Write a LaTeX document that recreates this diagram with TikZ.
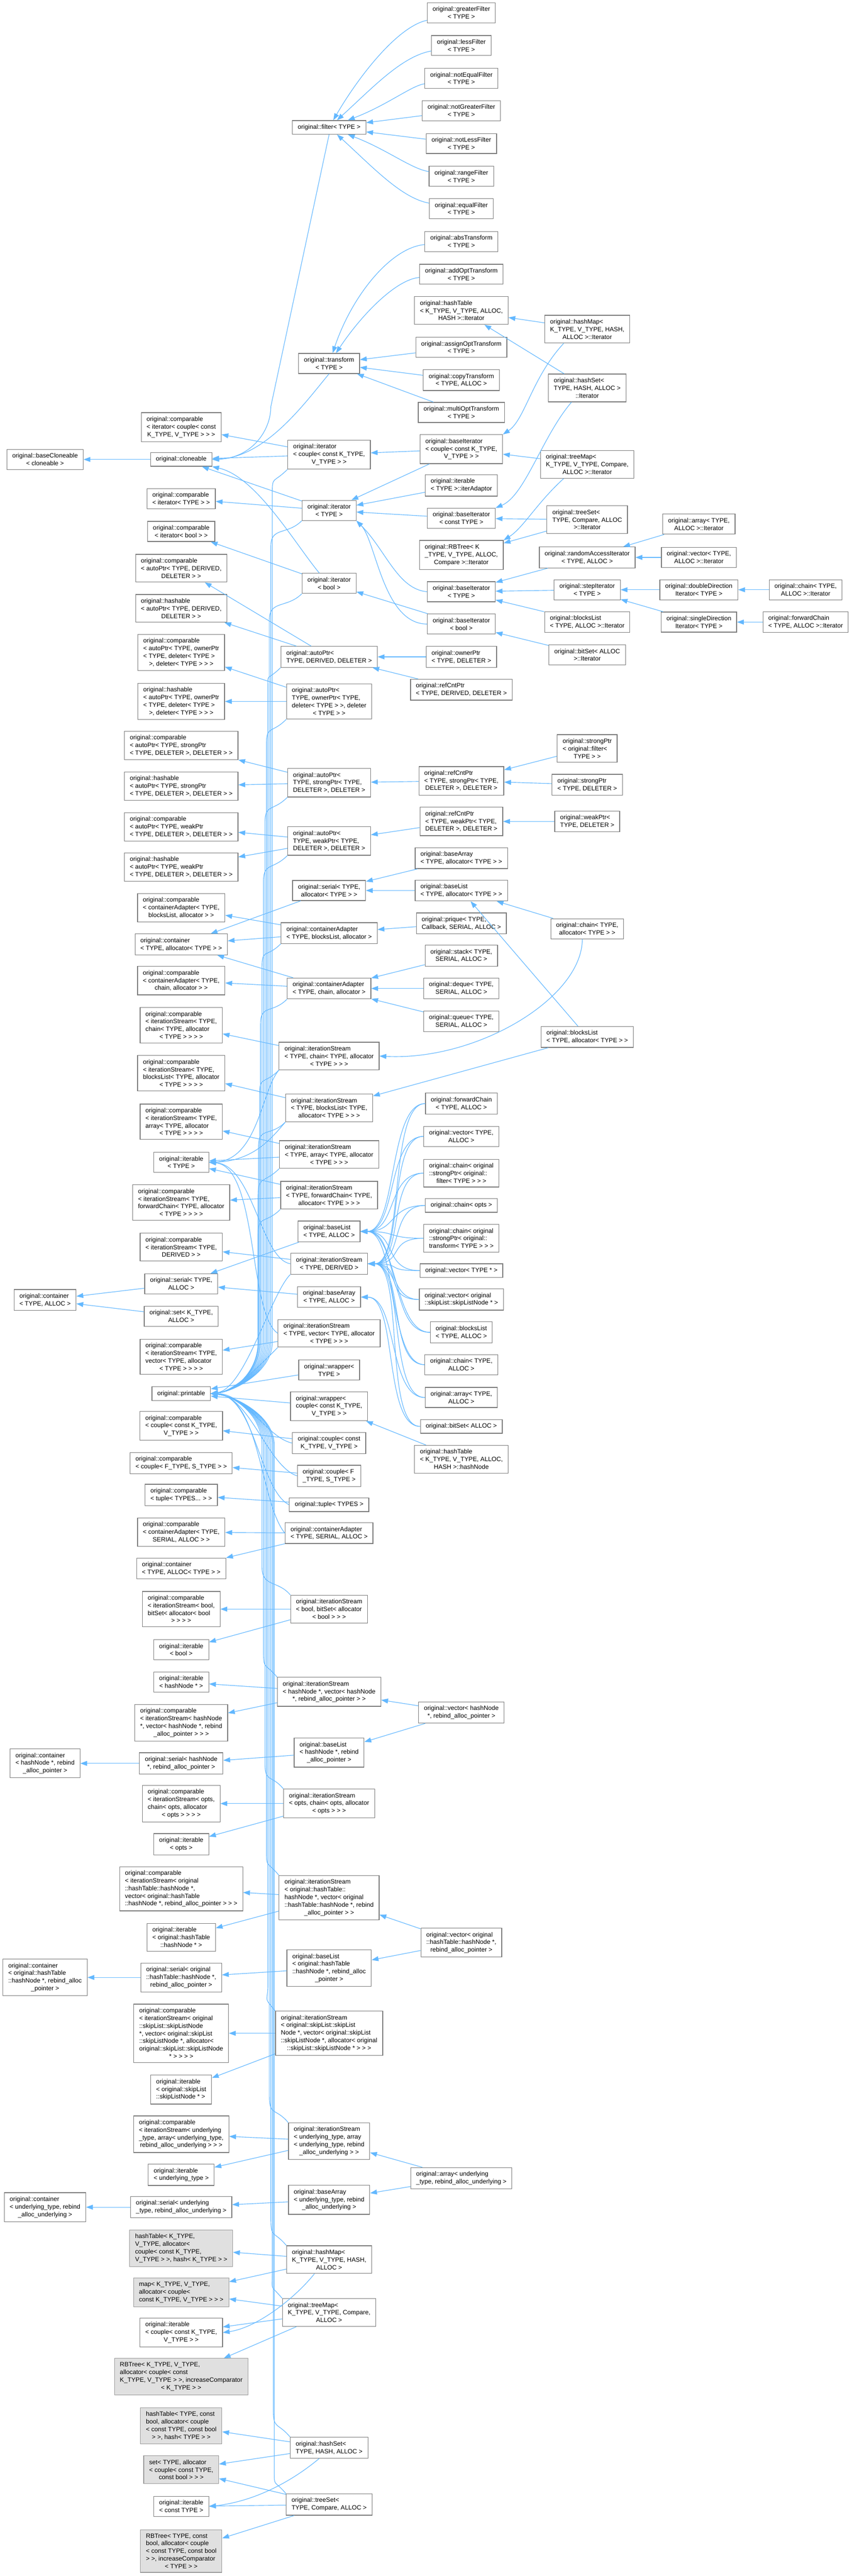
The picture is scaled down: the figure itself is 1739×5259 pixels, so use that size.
\documentclass[tikz,border=0pt]{standalone}
\usepackage{fontspec}
\setmainfont{Liberation Sans}
\usetikzlibrary{arrows.meta}
\definecolor{edgeblue}{HTML}{63B8FF}
\definecolor{boxline}{HTML}{7A7A7A}
\definecolor{extline}{HTML}{999999}
\definecolor{extfill}{HTML}{E0E0E0}

\begin{document}
\begin{tikzpicture}[x = 1pt, y = -1pt,
    cls/.style = {draw=boxline, fill=white, line width=1.3pt, align=left,
      font=\fontsize{12.8}{15.6}\selectfont, inner xsep=11pt, inner ysep=8pt},
    ext/.style = {cls, draw=extline, fill=extfill},
    inh/.style = {{Triangle[length=14pt,width=10pt]}-, draw=edgeblue, line width=1.2pt}]
  \fill[white] (0,0) rectangle (1739,5259);
  \begin{scope}[xshift=92pt]
    \node[cls] (baseCl) at (0,938) {original::baseCloneable\\\hfil< cloneable >};
    \node[cls] (contTA) at (0,2654) {original::container\\\hfil< TYPE, ALLOC >};
    \node[cls] (contHN) at (0,3600) {original::container\\< hashNode *, rebind\\\hfil\_alloc\_pointer >};
    \node[cls] (contHT) at (0,4037) {original::container\\< original::hashTable\\::hashNode *, rebind\_alloc\\\hfil\_pointer >};
    \node[cls] (contUT) at (0,4506) {original::container\\< underlying\_type, rebind\\\hfil\_alloc\_underlying >};
  \end{scope}
  \begin{scope}[xshift=370pt]
    \node[cls] (cmpItC) at (0,872) {original::comparable\\< iterator< couple< const\\\hfil K\_TYPE, V\_TYPE > > >};
    \node[cls] (clone) at (0,938) {original::cloneable};
    \node[cls] (cmpItT) at (0,1018) {original::comparable\\\hfil< iterator< TYPE > >};
    \node[cls] (cmpItB) at (0,1085) {original::comparable\\\hfil< iterator< bool > >};
    \node[cls] (cmpApD) at (0,1160) {original::comparable\\< autoPtr< TYPE, DERIVED,\\\hfil DELETER > >};
    \node[cls] (hshApD) at (0,1242) {original::hashable\\< autoPtr< TYPE, DERIVED,\\\hfil DELETER > >};
    \node[cls] (cmpApO) at (0,1332) {original::comparable\\< autoPtr< TYPE, ownerPtr\\< TYPE, deleter< TYPE >\\\hfil >, deleter< TYPE > > >};
    \node[cls] (hshApO) at (0,1432) {original::hashable\\< autoPtr< TYPE, ownerPtr\\< TYPE, deleter< TYPE >\\\hfil >, deleter< TYPE > > >};
    \node[cls] (cmpApS) at (0,1522) {original::comparable\\< autoPtr< TYPE, strongPtr\\\hfil< TYPE, DELETER >, DELETER > >};
    \node[cls] (hshApS) at (0,1605) {original::hashable\\< autoPtr< TYPE, strongPtr\\\hfil< TYPE, DELETER >, DELETER > >};
    \node[cls] (cmpApW) at (0,1688) {original::comparable\\< autoPtr< TYPE, weakPtr\\\hfil< TYPE, DELETER >, DELETER > >};
    \node[cls] (hshApW) at (0,1770) {original::hashable\\< autoPtr< TYPE, weakPtr\\\hfil< TYPE, DELETER >, DELETER > >};
    \node[cls] (cmpCaBL) at (0,1853) {original::comparable\\< containerAdapter< TYPE,\\\hfil blocksList, allocator > >};
    \node[cls] (contTAl) at (0,1928) {original::container\\\hfil< TYPE, allocator< TYPE > >};
    \node[cls] (cmpCaCh) at (0,2002) {original::comparable\\< containerAdapter< TYPE,\\\hfil chain, allocator > >};
    \node[cls] (cmpIsCh) at (0,2093) {original::comparable\\< iterationStream< TYPE,\\ chain< TYPE, allocator\\\hfil< TYPE > > > >};
    \node[cls] (cmpIsBL) at (0,2191) {original::comparable\\< iterationStream< TYPE,\\ blocksList< TYPE, allocator\\\hfil< TYPE > > > >};
    \node[cls] (cmpIsAr) at (0,2290) {original::comparable\\< iterationStream< TYPE,\\ array< TYPE, allocator\\\hfil< TYPE > > > >};
    \node[cls] (iterT) at (0,2373) {original::iterable\\\hfil< TYPE >};
    \node[cls] (cmpIsFC) at (0,2455) {original::comparable\\< iterationStream< TYPE,\\ forwardChain< TYPE, allocator\\\hfil< TYPE > > > >};
    \node[cls] (cmpIsD) at (0,2546) {original::comparable\\< iterationStream< TYPE,\\\hfil DERIVED > >};
    \node[cls] (serTA) at (0,2621) {original::serial< TYPE,\\\hfil ALLOC >};
    \node[cls] (setKA) at (0,2687) {original::set< K\_TYPE,\\\hfil ALLOC >};
    \node[cls] (cmpIsV) at (0,2770) {original::comparable\\< iterationStream< TYPE,\\ vector< TYPE, allocator\\\hfil< TYPE > > > >};
    \node[cls] (print) at (0,2845) {original::printable};
    \node[cls] (cmpCpK) at (0,2911) {original::comparable\\< couple< const K\_TYPE,\\\hfil V\_TYPE > >};
    \node[cls] (cmpCpF) at (0,2987) {original::comparable\\\hfil< couple< F\_TYPE, S\_TYPE > >};
    \node[cls] (cmpTup) at (0,3052) {original::comparable\\\hfil< tuple< TYPES... > >};
    \node[cls] (cmpCaS) at (0,3128) {original::comparable\\< containerAdapter< TYPE,\\\hfil SERIAL, ALLOC > >};
    \node[cls] (contTAT) at (0,3202) {original::container\\\hfil< TYPE, ALLOC< TYPE > >};
    \node[cls] (cmpIsBo) at (0,3285) {original::comparable\\< iterationStream< bool,\\ bitSet< allocator< bool\\\hfil > > > >};
    \node[cls] (iterB) at (0,3368) {original::iterable\\\hfil< bool >};
    \node[cls] (iterHN) at (0,3434) {original::iterable\\\hfil< hashNode * >};
    \node[cls] (cmpIsHN) at (0,3517) {original::comparable\\< iterationStream< hashNode\\ *, vector< hashNode *, rebind\\\hfil\_alloc\_pointer > > >};
    \node[cls] (serHN) at (0,3600) {original::serial< hashNode\\\hfil *, rebind\_alloc\_pointer >};
    \node[cls] (cmpIsO) at (0,3682) {original::comparable\\< iterationStream< opts,\\ chain< opts, allocator\\\hfil< opts > > > >};
    \node[cls] (iterO) at (0,3765) {original::iterable\\\hfil< opts >};
    \node[cls] (cmpIsHT) at (0,3856) {original::comparable\\< iterationStream< original\\::hashTable::hashNode *,\\ vector< original::hashTable\\\hfil::hashNode *, rebind\_alloc\_pointer > > >};
    \node[cls] (iterHT) at (0,3955) {original::iterable\\< original::hashTable\\\hfil::hashNode * >};
    \node[cls] (serHT) at (0,4037) {original::serial< original\\::hashTable::hashNode *,\\\hfil rebind\_alloc\_pointer >};
    \node[cls] (cmpIsSL) at (0,4151) {original::comparable\\< iterationStream< original\\::skipList::skipListNode\\ *, vector< original::skipList\\::skipListNode *, allocator<\\ original::skipList::skipListNode\\\hfil * > > > >};
    \node[cls] (iterSL) at (0,4266) {original::iterable\\< original::skipList\\::skipListNode * >};
    \node[cls] (cmpIsU) at (0,4357) {original::comparable\\< iterationStream< underlying\\\_type, array< underlying\_type,\\\hfil rebind\_alloc\_underlying > > >};
    \node[cls] (iterU) at (0,4440) {original::iterable\\\hfil< underlying\_type >};
    \node[cls] (serU) at (0,4506) {original::serial< underlying\\\hfil\_type, rebind\_alloc\_underlying >};
    \node[ext] (gHtK) at (0,4590) {hashTable< K\_TYPE,\\ V\_TYPE, allocator<\\ couple< const K\_TYPE,\\\hfil V\_TYPE > >, hash< K\_TYPE > >};
    \node[ext] (gMap) at (0,4680) {map< K\_TYPE, V\_TYPE,\\ allocator< couple<\\\hfil const K\_TYPE, V\_TYPE > > >};
    \node[cls] (iterCp) at (0,4762) {original::iterable\\< couple< const K\_TYPE,\\\hfil V\_TYPE > >};
    \node[ext] (gRbK) at (0,4852) {RBTree< K\_TYPE, V\_TYPE,\\ allocator< couple< const\\ K\_TYPE, V\_TYPE > >, increaseComparator\\\hfil< K\_TYPE > >};
    \node[ext] (gHtT) at (0,4952) {hashTable< TYPE, const\\ bool, allocator< couple\\< const TYPE, const bool\\\hfil > >, hash< TYPE > >};
    \node[ext] (gSet) at (0,5042) {set< TYPE, allocator\\< couple< const TYPE,\\\hfil const bool > > >};
    \node[cls] (iterCT) at (0,5117) {original::iterable\\\hfil< const TYPE >};
    \node[ext] (gRbT) at (0,5208) {RBTree< TYPE, const\\ bool, allocator< couple\\< const TYPE, const bool\\ > >, increaseComparator\\\hfil< TYPE > >};
  \end{scope}
  \begin{scope}[xshift=672pt]
    \node[cls] (filt) at (0,260) {original::filter< TYPE >};
    \node[cls] (trans) at (0,742) {original::transform\\\hfil< TYPE >};
    \node[cls] (itC) at (0,928) {original::iterator\\< couple< const K\_TYPE,\\\hfil V\_TYPE > >};
    \node[cls] (itT) at (0,1042) {original::iterator\\\hfil< TYPE >};
    \node[cls] (itB) at (0,1191) {original::iterator\\\hfil< bool >};
    \node[cls] (apD) at (0,1341) {original::autoPtr<\\\hfil TYPE, DERIVED, DELETER >};
    \node[cls] (apO) at (0,1432) {original::autoPtr<\\ TYPE, ownerPtr< TYPE,\\ deleter< TYPE > >, deleter\\\hfil< TYPE > >};
    \node[cls] (apS) at (0,1598) {original::autoPtr<\\ TYPE, strongPtr< TYPE,\\\hfil DELETER >, DELETER >};
    \node[cls] (apW) at (0,1717) {original::autoPtr<\\ TYPE, weakPtr< TYPE,\\\hfil DELETER >, DELETER >};
    \node[cls] (serTAl) at (0,1818) {original::serial< TYPE,\\\hfil allocator< TYPE > >};
    \node[cls] (caBL) at (0,1905) {original::containerAdapter\\\hfil< TYPE, blocksList, allocator >};
    \node[cls] (caCh) at (0,2018) {original::containerAdapter\\\hfil< TYPE, chain, allocator >};
    \node[cls] (isCh) at (0,2156) {original::iterationStream\\< TYPE, chain< TYPE, allocator\\\hfil< TYPE > > >};
    \node[cls] (isBL) at (0,2262) {original::iterationStream\\< TYPE, blocksList< TYPE,\\\hfil allocator< TYPE > > >};
    \node[cls] (isAr) at (0,2357) {original::iterationStream\\< TYPE, array< TYPE, allocator\\\hfil< TYPE > > >};
    \node[cls] (isFC) at (0,2440) {original::iterationStream\\< TYPE, forwardChain< TYPE,\\\hfil allocator< TYPE > > >};
    \node[cls] (blTA) at (0,2514) {original::baseList\\\hfil< TYPE, ALLOC >};
    \node[cls] (isD) at (0,2580) {original::iterationStream\\\hfil< TYPE, DERIVED >};
    \node[cls] (baTA) at (0,2648) {original::baseArray\\\hfil< TYPE, ALLOC >};
    \node[cls] (isV) at (0,2722) {original::iterationStream\\< TYPE, vector< TYPE, allocator\\\hfil< TYPE > > >};
    \node[cls] (wrT) at (0,2797) {original::wrapper<\\\hfil TYPE >};
    \node[cls] (wrC) at (0,2871) {original::wrapper<\\ couple< const K\_TYPE,\\\hfil V\_TYPE > >};
    \node[cls] (cpK) at (0,2946) {original::couple< const\\\hfil K\_TYPE, V\_TYPE >};
    \node[cls] (cpF) at (0,3013) {original::couple< F\\\hfil\_TYPE, S\_TYPE >};
    \node[cls] (tup) at (0,3072) {original::tuple< TYPES >};
    \node[cls] (caS) at (0,3130) {original::containerAdapter\\\hfil< TYPE, SERIAL, ALLOC >};
    \node[cls] (isBo) at (0,3285) {original::iterationStream\\< bool, bitSet< allocator\\\hfil< bool > > >};
    \node[cls] (isHN) at (0,3454) {original::iterationStream\\< hashNode *, vector< hashNode\\\hfil *, rebind\_alloc\_pointer > >};
    \node[cls] (blHN) at (0,3578) {original::baseList\\< hashNode *, rebind\\\hfil\_alloc\_pointer >};
    \node[cls] (isO) at (0,3682) {original::iterationStream\\< opts, chain< opts, allocator\\\hfil< opts > > >};
    \node[cls] (isHT) at (0,3874) {original::iterationStream\\< original::hashTable::\\hashNode *, vector< original\\::hashTable::hashNode *, rebind\\\hfil\_alloc\_pointer > >};
    \node[cls] (blHT) at (0,4018) {original::baseList\\< original::hashTable\\::hashNode *, rebind\_alloc\\\hfil\_pointer >};
    \node[cls] (isSL) at (0,4151) {original::iterationStream\\< original::skipList::skipList\\Node *, vector< original::skipList\\::skipListNode *, allocator< original\\\hfil::skipList::skipListNode * > > >};
    \node[cls] (isU) at (0,4371) {original::iterationStream\\< underlying\_type, array\\< underlying\_type, rebind\\\hfil\_alloc\_underlying > >};
    \node[cls] (baU) at (0,4491) {original::baseArray\\< underlying\_type, rebind\\\hfil\_alloc\_underlying >};
    \node[cls] (hMap) at (0,4613) {original::hashMap<\\ K\_TYPE, V\_TYPE, HASH,\\\hfil ALLOC >};
    \node[cls] (tMap) at (0,4721) {original::treeMap<\\ K\_TYPE, V\_TYPE, Compare,\\\hfil ALLOC >};
    \node[cls] (hSet) at (0,4997) {original::hashSet<\\\hfil TYPE, HASH, ALLOC >};
    \node[cls] (tSet) at (0,5113) {original::treeSet<\\\hfil TYPE, Compare, ALLOC >};
  \end{scope}
  \begin{scope}[xshift=942pt]
    \node[cls] (fGt) at (0,26) {original::greaterFilter\\\hfil< TYPE >};
    \node[cls] (fLs) at (0,93) {original::lessFilter\\\hfil< TYPE >};
    \node[cls] (fNe) at (0,160) {original::notEqualFilter\\\hfil< TYPE >};
    \node[cls] (fNg) at (0,226) {original::notGreaterFilter\\\hfil< TYPE >};
    \node[cls] (fNl) at (0,293) {original::notLessFilter\\\hfil< TYPE >};
    \node[cls] (fRg) at (0,360) {original::rangeFilter\\\hfil< TYPE >};
    \node[cls] (fEq) at (0,426) {original::equalFilter\\\hfil< TYPE >};
    \node[cls] (tAbs) at (0,493) {original::absTransform\\\hfil< TYPE >};
    \node[cls] (tAdd) at (0,560) {original::addOptTransform\\\hfil< TYPE >};
    \node[cls] (htIt) at (0,634) {original::hashTable\\< K\_TYPE, V\_TYPE, ALLOC,\\\hfil HASH >::Iterator};
    \node[cls] (tAsg) at (0,709) {original::assignOptTransform\\\hfil< TYPE >};
    \node[cls] (tCpy) at (0,776) {original::copyTransform\\\hfil< TYPE, ALLOC >};
    \node[cls] (tMul) at (0,842) {original::multiOptTransform\\\hfil< TYPE >};
    \node[cls] (biCp) at (0,917) {original::baseIterator\\< couple< const K\_TYPE,\\\hfil V\_TYPE > >};
    \node[cls] (itAd) at (0,991) {original::iterable\\\hfil< TYPE >::iterAdaptor};
    \node[cls] (biCT) at (0,1058) {original::baseIterator\\\hfil< const TYPE >};
    \node[cls] (rbIt) at (0,1133) {original::RBTree< K\\\_TYPE, V\_TYPE, ALLOC,\\\hfil Compare >::Iterator};
    \node[cls] (biT) at (0,1208) {original::baseIterator\\\hfil< TYPE >};
    \node[cls] (biB) at (0,1274) {original::baseIterator\\\hfil< bool >};
    \node[cls] (owP) at (0,1341) {original::ownerPtr\\\hfil< TYPE, DELETER >};
    \node[cls] (rcD) at (0,1408) {original::refCntPtr\\\hfil< TYPE, DERIVED, DELETER >};
    \node[cls] (rcS) at (0,1594) {original::refCntPtr\\< TYPE, strongPtr< TYPE,\\\hfil DELETER >, DELETER >};
    \node[cls] (rcW) at (0,1677) {original::refCntPtr\\< TYPE, weakPtr< TYPE,\\\hfil DELETER >, DELETER >};
    \node[cls] (baTAl) at (0,1752) {original::baseArray\\\hfil< TYPE, allocator< TYPE > >};
    \node[cls] (blTAl) at (0,1818) {original::baseList\\\hfil< TYPE, allocator< TYPE > >};
    \node[cls] (prq) at (0,1885) {original::prique< TYPE,\\\hfil Callback, SERIAL, ALLOC >};
    \node[cls] (stk) at (0,1951) {original::stack< TYPE,\\\hfil SERIAL, ALLOC >};
    \node[cls] (deq) at (0,2018) {original::deque< TYPE,\\\hfil SERIAL, ALLOC >};
    \node[cls] (que) at (0,2085) {original::queue< TYPE,\\\hfil SERIAL, ALLOC >};
    \node[cls] (fcTA) at (0,2253) {original::forwardChain\\\hfil< TYPE, ALLOC >};
    \node[cls] (vTA) at (0,2320) {original::vector< TYPE,\\\hfil ALLOC >};
    \node[cls] (chSF) at (0,2395) {original::chain< original\\::strongPtr< original::\\\hfil filter< TYPE > > >};
    \node[cls] (chO) at (0,2461) {original::chain< opts >};
    \node[cls] (chST) at (0,2528) {original::chain< original\\::strongPtr< original::\\\hfil transform< TYPE > > >};
    \node[cls] (vTP) at (0,2594) {original::vector< TYPE * >};
    \node[cls] (vSL) at (0,2653) {original::vector< original\\\hfil::skipList::skipListNode * >};
    \node[cls] (bLTA) at (0,2720) {original::blocksList\\\hfil< TYPE, ALLOC >};
    \node[cls] (chTA) at (0,2786) {original::chain< TYPE,\\\hfil ALLOC >};
    \node[cls] (arTA) at (0,2853) {original::array< TYPE,\\\hfil ALLOC >};
    \node[cls] (bsA) at (0,2912) {original::bitSet< ALLOC >};
    \node[cls] (hNode) at (0,2979) {original::hashTable\\< K\_TYPE, V\_TYPE, ALLOC,\\\hfil HASH >::hashNode};
    \node[cls] (vHN) at (0,3496) {original::vector< hashNode\\\hfil *, rebind\_alloc\_pointer >};
    \node[cls] (vHT) at (0,3966) {original::vector< original\\::hashTable::hashNode *,\\\hfil rebind\_alloc\_pointer >};
    \node[cls] (arU) at (0,4447) {original::array< underlying\\\hfil\_type, rebind\_alloc\_underlying >};
  \end{scope}
  \begin{scope}[xshift=1199pt]
    \node[cls] (hmIt) at (0,672) {original::hashMap<\\ K\_TYPE, V\_TYPE, HASH,\\\hfil ALLOC >::Iterator};
    \node[cls] (hsIt) at (0,792) {original::hashSet<\\ TYPE, HASH, ALLOC >\\\hfil::Iterator};
    \node[cls] (tmIt) at (0,948) {original::treeMap<\\ K\_TYPE, V\_TYPE, Compare,\\\hfil ALLOC >::Iterator};
    \node[cls] (tsIt) at (0,1061) {original::treeSet<\\ TYPE, Compare, ALLOC\\\hfil >::Iterator};
    \node[cls] (raIt) at (0,1138) {original::randomAccessIterator\\\hfil< TYPE, ALLOC >};
    \node[cls] (stIt) at (0,1204) {original::stepIterator\\\hfil< TYPE >};
    \node[cls] (blIt) at (0,1270) {original::blocksList\\\hfil< TYPE, ALLOC >::Iterator};
    \node[cls] (bsIt) at (0,1337) {original::bitSet< ALLOC\\\hfil >::Iterator};
    \node[cls] (spF) at (0,1528) {original::strongPtr\\< original::filter<\\\hfil TYPE > >};
    \node[cls] (spT) at (0,1602) {original::strongPtr\\\hfil< TYPE, DELETER >};
    \node[cls] (wkP) at (0,1677) {original::weakPtr<\\\hfil TYPE, DELETER >};
    \node[cls] (chTAl) at (0,1896) {original::chain< TYPE,\\\hfil allocator< TYPE > >};
    \node[cls] (bLTAl) at (0,2117) {original::blocksList\\\hfil< TYPE, allocator< TYPE > >};
  \end{scope}
  \begin{scope}[xshift=1427pt]
    \node[cls] (arIt) at (0,1070) {original::array< TYPE,\\\hfil ALLOC >::Iterator};
    \node[cls] (vIt) at (0,1138) {original::vector< TYPE,\\\hfil ALLOC >::Iterator};
    \node[cls] (ddIt) at (0,1204) {original::doubleDirection\\\hfil Iterator< TYPE >};
    \node[cls] (sdIt) at (0,1270) {original::singleDirection\\\hfil Iterator< TYPE >};
  \end{scope}
  \begin{scope}[xshift=1645pt]
    \node[cls] (chIt) at (0,1204) {original::chain< TYPE,\\\hfil ALLOC >::Iterator};
    \node[cls] (fcIt) at (0,1270) {original::forwardChain\\\hfil< TYPE, ALLOC >::Iterator};
  \end{scope}
  %
  \draw[inh] (baseCl) -- (clone);
  \draw[inh] (clone.east) .. controls +(80,-3) and +(0,50) .. (553,830) -- (filt.south);
  \draw[inh] (clone.east) .. controls +(110,-5) and +(-50,60) .. (trans.south);
  \draw[inh] (clone) -- (itC);
  \draw[inh] (clone) -- (itT);
  \draw[inh] (clone.south east) .. controls +(90,20) and +(-50,-60) .. ([xshift=-20pt]itB.north);
  \draw[inh] (cmpItC) -- (itC);
  \draw[inh] (cmpItT) -- (itT);
  \draw[inh] (cmpItB) -- (itB);
  %
  \draw[inh] (filt) .. controls (730,160) and (810,55) .. (fGt);
  \draw[inh] (filt) .. controls (760,180) and (820,115) .. (fLs);
  \draw[inh] (filt) .. controls (790,215) and (840,175) .. (fNe);
  \draw[inh] (filt) -- (fNg);
  \draw[inh] (filt) -- (fNl);
  \draw[inh] (filt) .. controls (790,305) and (840,345) .. (fRg);
  \draw[inh] (filt) .. controls (760,340) and (820,405) .. (fEq);
  \draw[inh] (trans) .. controls (720,600) and (800,505) .. (tAbs);
  \draw[inh] (trans) .. controls (740,640) and (810,570) .. (tAdd);
  \draw[inh] (trans) -- (tAsg);
  \draw[inh] (trans) -- (tCpy);
  \draw[inh] (trans) -- (tMul);
  %
  \draw[inh] (itC) -- (biCp);
  \draw[inh] (itT) -- (biCp);
  \draw[inh] (itT) -- (itAd);
  \draw[inh] (itT) -- (biCT);
  \draw[inh] (itT.south east) .. controls +(60,60) and +(-60,-5) .. (biT.west);
  \draw[inh] (itT.south east) .. controls +(40,40) and +(-90,0) .. (biB.west);
  \draw[inh] (itB) -- (biB);
  \draw[inh] (htIt) -- (hmIt);
  \draw[inh] (htIt) -- (hsIt);
  \draw[inh] (biCp.north east) .. controls +(45,-30) and +(-65,70) .. ([xshift=-48pt]hmIt.south);
  \draw[inh] (biCT.north east) .. controls +(60,-25) and +(-60,70) .. ([xshift=-32pt]hsIt.south);
  \draw[inh] (biCp) -- (tmIt);
  \draw[inh] (rbIt.north east) .. controls +(40,-25) and +(-55,50) .. ([xshift=-48pt]tmIt.south);
  \draw[inh] (biCT) -- (tsIt);
  \draw[inh] (rbIt) -- (tsIt);
  \draw[inh] (biT) -- (raIt);
  \draw[inh] (biT) -- (stIt);
  \draw[inh] (biT) -- (blIt);
  \draw[inh] (biB) -- (bsIt);
  \draw[inh] (raIt) -- (arIt);
  \draw[inh] (raIt) -- (vIt);
  \draw[inh] (stIt) -- (ddIt);
  \draw[inh] (stIt) -- (sdIt);
  \draw[inh] (ddIt) -- (chIt);
  \draw[inh] (sdIt) -- (fcIt);
  %
  \draw[inh] (cmpApD) -- (apD);
  \draw[inh] (hshApD) -- (apD);
  \draw[inh] (apD) -- (owP);
  \draw[inh] (apD) -- (rcD);
  \draw[inh] (cmpApO) -- (apO);
  \draw[inh] (hshApO) -- (apO);
  \draw[inh] (cmpApS) -- (apS);
  \draw[inh] (hshApS) -- (apS);
  \draw[inh] (apS) -- (rcS);
  \draw[inh] (rcS) -- (spF);
  \draw[inh] (rcS) -- (spT);
  \draw[inh] (cmpApW) -- (apW);
  \draw[inh] (hshApW) -- (apW);
  \draw[inh] (apW) -- (rcW);
  \draw[inh] (rcW) -- (wkP);
  %
  \draw[inh] (serTAl) -- (baTAl);
  \draw[inh] (serTAl) -- (blTAl);
  \draw[inh] (contTAl) -- (serTAl);
  \draw[inh] (blTAl) -- (chTAl);
  \draw[inh] (blTAl) -- (bLTAl);
  \draw[inh] (cmpCaBL) -- (caBL);
  \draw[inh] (contTAl) -- (caBL);
  \draw[inh] (caBL) -- (prq);
  \draw[inh] (contTAl) -- (caCh);
  \draw[inh] (cmpCaCh) -- (caCh);
  \draw[inh] (caCh) -- (stk);
  \draw[inh] (caCh) -- (deq);
  \draw[inh] (caCh) -- (que);
  \draw[inh] (cmpIsCh) -- (isCh);
  \draw[inh] (isCh.east) .. controls +(200,10) and +(0,120) .. ([xshift=-10pt]chTAl.south);
  \draw[inh] (cmpIsBL) -- (isBL);
  \draw[inh] (isBL) -- (bLTAl);
  \draw[inh] (cmpIsAr) -- (isAr);
  \draw[inh] (iterT) -- (isAr);
  \draw[inh] (cmpIsFC) -- (isFC);
  \draw[inh] (iterT) -- (isFC);
  \draw[inh] (iterT.east) .. controls +(100,-5) and +(-35,40) .. (isCh.south west);
  \draw[inh] (iterT.east) .. controls +(90,-3) and +(-30,35) .. (isBL.south west);
  \draw[inh] (iterT.east) .. controls +(90,5) and +(-60,-10) .. (isD.west);
  \draw[inh] (iterT.east) .. controls +(100,8) and +(-60,-40) .. (isV.west);
  \draw[inh] (cmpIsD) -- (isD);
  \draw[inh] (cmpIsV) -- (isV);
  \draw[inh] (serTA) -- (blTA);
  \draw[inh] (serTA) -- (baTA);
  \draw[inh] (contTA) -- (serTA);
  \draw[inh] (contTA) -- (setKA);
  %
  \draw[inh] (blTA.east) .. controls +(75,0) and +(-75,0) .. (fcTA.west);
  \draw[inh] (blTA.east) .. controls +(75,0) and +(-75,0) .. (vTA.west);
  \draw[inh] (blTA.east) .. controls +(75,0) and +(-75,0) .. (chSF.west);
  \draw[inh] (blTA.east) .. controls +(75,0) and +(-75,0) .. (chO.west);
  \draw[inh] (blTA.east) .. controls +(75,0) and +(-75,0) .. (chST.west);
  \draw[inh] (blTA.east) .. controls +(75,0) and +(-75,0) .. (vTP.west);
  \draw[inh] (blTA.east) .. controls +(75,0) and +(-75,0) .. (vSL.west);
  \draw[inh] (blTA.east) .. controls +(75,0) and +(-75,0) .. (bLTA.west);
  \draw[inh] (blTA.east) .. controls +(75,0) and +(-75,0) .. (chTA.west);
  \draw[inh] (isD.east) .. controls +(75,0) and +(-75,0) .. (fcTA.west);
  \draw[inh] (isD.east) .. controls +(75,0) and +(-75,0) .. (vTA.west);
  \draw[inh] (isD.east) .. controls +(75,0) and +(-75,0) .. (chSF.west);
  \draw[inh] (isD.east) .. controls +(75,0) and +(-75,0) .. (chO.west);
  \draw[inh] (isD.east) .. controls +(75,0) and +(-75,0) .. (chST.west);
  \draw[inh] (isD.east) .. controls +(75,0) and +(-75,0) .. (vTP.west);
  \draw[inh] (isD.east) .. controls +(75,0) and +(-75,0) .. (vSL.west);
  \draw[inh] (isD.east) .. controls +(75,0) and +(-75,0) .. (bLTA.west);
  \draw[inh] (isD.east) .. controls +(75,0) and +(-75,0) .. (chTA.west);
  \draw[inh] (isD.east) .. controls +(75,0) and +(-75,0) .. (arTA.west);
  \draw[inh] (isD.east) .. controls +(75,0) and +(-75,0) .. (bsA.west);
  \draw[inh] (baTA.east) .. controls +(75,0) and +(-75,0) .. (arTA.west);
  \draw[inh] (baTA.east) .. controls +(75,0) and +(-75,0) .. (bsA.west);
  %
  \draw[inh] (print.east) .. controls +(50,-5) and +(0,60) .. (556,2740) -- (556,1010) .. controls +(0,-40) and +(-30,30) .. (itC.south west);
  \draw[inh] (print.east) .. controls +(50,-5) and +(0,60) .. (553,2740) -- (553,1115) .. controls +(0,-40) and +(-30,30) .. (itT.south west);
  \draw[inh] (print.east) .. controls +(50,-5) and +(0,60) .. (550,2740) -- (550,1265) .. controls +(0,-40) and +(-30,30) .. (itB.south west);
  \draw[inh] (print.east) .. controls +(50,-5) and +(0,60) .. (547,2740) -- (547,1410) .. controls +(0,-40) and +(-30,30) .. (apD.south west);
  \draw[inh] (print.east) .. controls +(50,-5) and +(0,60) .. (544,2740) -- (544,1520) .. controls +(0,-40) and +(-30,30) .. (apO.south west);
  \draw[inh] (print.east) .. controls +(50,-5) and +(0,60) .. (541,2740) -- (541,1680) .. controls +(0,-40) and +(-30,30) .. (apS.south west);
  \draw[inh] (print.east) .. controls +(50,-5) and +(0,60) .. (538,2740) -- (538,1800) .. controls +(0,-40) and +(-30,30) .. (apW.south west);
  \draw[inh] (print.east) .. controls +(50,-5) and +(0,60) .. (535,2740) -- (535,1975) .. controls +(0,-40) and +(-30,30) .. (caBL.south west);
  \draw[inh] (print.east) .. controls +(50,-5) and +(0,60) .. (532,2740) -- (532,2090) .. controls +(0,-40) and +(-30,30) .. (caCh.south west);
  \draw[inh] (print.east) .. controls +(50,-5) and +(0,60) .. (530,2740) -- (530,2235) .. controls +(0,-40) and +(-30,30) .. (isCh.south west);
  \draw[inh] (print.east) .. controls +(50,-5) and +(0,60) .. (528,2740) -- (528,2340) .. controls +(0,-40) and +(-30,30) .. (isBL.south west);
  \draw[inh] (print.east) .. controls +(50,-5) and +(0,60) .. (527,2740) -- (527,2440) .. controls +(0,-40) and +(-30,30) .. (isAr.south west);
  \draw[inh] (print.east) .. controls +(50,-5) and +(0,60) .. (527,2740) -- (527,2520) .. controls +(0,-40) and +(-30,30) .. (isFC.south west);
  \draw[inh] (print.east) .. controls +(70,-10) and +(-40,40) .. (isD.south west);
  \draw[inh] (print.east) .. controls +(50,-5) and +(-30,30) .. (isV.south west);
  \draw[inh] (print) -- (wrT);
  \draw[inh] (print) -- (wrC);
  \draw[inh] (print.east) .. controls +(70,0) and +(-50,-10) .. (cpK.west);
  \draw[inh] (print.east) .. controls +(80,5) and +(-60,-20) .. (cpF.west);
  \draw[inh] (print.east) .. controls +(90,5) and +(-60,-30) .. (tup.west);
  \draw[inh] (print.east) .. controls +(100,5) and +(-50,-60) .. (caS.west);
  \draw[inh] (print.east) .. controls +(50,5) and +(0,-60) .. (535,2950) -- (535,3200) .. controls +(0,40) and +(-25,-30) .. (isBo.north west);
  \draw[inh] (print.east) .. controls +(50,5) and +(0,-60) .. (538,2950) -- (538,3370) .. controls +(0,40) and +(-25,-30) .. (isHN.north west);
  \draw[inh] (print.east) .. controls +(50,5) and +(0,-60) .. (541,2950) -- (541,3600) .. controls +(0,40) and +(-25,-30) .. (isO.north west);
  \draw[inh] (print.east) .. controls +(50,5) and +(0,-60) .. (544,2950) -- (544,3775) .. controls +(0,40) and +(-25,-30) .. (isHT.north west);
  \draw[inh] (print.east) .. controls +(50,5) and +(0,-60) .. (547,2950) -- (547,4050) .. controls +(0,40) and +(-25,-30) .. (isSL.north west);
  \draw[inh] (print.east) .. controls +(50,5) and +(0,-60) .. (550,2950) -- (550,4280) .. controls +(0,40) and +(-25,-30) .. (isU.north west);
  \draw[inh] (print.east) .. controls +(50,5) and +(0,-60) .. (553,2950) -- (553,4530) .. controls +(0,40) and +(-25,-30) .. (hMap.north west);
  \draw[inh] (print.east) .. controls +(50,5) and +(0,-60) .. (556,2950) -- (556,4640) .. controls +(0,40) and +(-25,-30) .. (tMap.north west);
  \draw[inh] (print.east) .. controls +(50,5) and +(0,-60) .. (558,2950) -- (558,4920) .. controls +(0,40) and +(-25,-30) .. (hSet.north west);
  \draw[inh] (print.east) .. controls +(50,5) and +(0,-60) .. (560,2950) -- (560,5040) .. controls +(0,40) and +(-25,-30) .. (tSet.north west);
  %
  \draw[inh] (cmpCpK) -- (cpK);
  \draw[inh] (cmpCpF) -- (cpF);
  \draw[inh] (cmpTup) -- (tup);
  \draw[inh] (cmpCaS) -- (caS);
  \draw[inh] (contTAT) -- (caS);
  \draw[inh] (wrC) -- (hNode);
  \draw[inh] (cmpIsBo) -- (isBo);
  \draw[inh] (iterB) -- (isBo);
  \draw[inh] (iterHN) -- (isHN);
  \draw[inh] (cmpIsHN) -- (isHN);
  \draw[inh] (isHN) -- (vHN);
  \draw[inh] (blHN) -- (vHN);
  \draw[inh] (serHN) -- (blHN);
  \draw[inh] (contHN) -- (serHN);
  \draw[inh] (cmpIsO) -- (isO);
  \draw[inh] (iterO) -- (isO);
  \draw[inh] (cmpIsHT) -- (isHT);
  \draw[inh] (iterHT) -- (isHT);
  \draw[inh] (isHT) -- (vHT);
  \draw[inh] (blHT) -- (vHT);
  \draw[inh] (serHT) -- (blHT);
  \draw[inh] (contHT) -- (serHT);
  \draw[inh] (cmpIsSL) -- (isSL);
  \draw[inh] (iterSL) -- (isSL);
  \draw[inh] (cmpIsU) -- (isU);
  \draw[inh] (iterU) -- (isU);
  \draw[inh] (isU) -- (arU);
  \draw[inh] (baU) -- (arU);
  \draw[inh] (serU) -- (baU);
  \draw[inh] (contUT) -- (serU);
  \draw[inh] (gHtK) -- (hMap);
  \draw[inh] (gMap) -- (hMap);
  \draw[inh] (iterCp.east) .. controls +(70,-10) and +(-40,50) .. ([xshift=-30pt]hMap.south);
  \draw[inh] (gMap) -- (tMap);
  \draw[inh] (iterCp) -- (tMap);
  \draw[inh] (gRbK) -- (tMap);
  \draw[inh] (gHtT) -- (hSet);
  \draw[inh] (gSet) -- (hSet);
  \draw[inh] (iterCT.east) .. controls +(90,-10) and +(-60,50) .. ([xshift=-20pt]hSet.south);
  \draw[inh] (gSet) -- (tSet);
  \draw[inh] (iterCT) -- (tSet);
  \draw[inh] (gRbT) -- (tSet);
\end{tikzpicture}
\end{document}
